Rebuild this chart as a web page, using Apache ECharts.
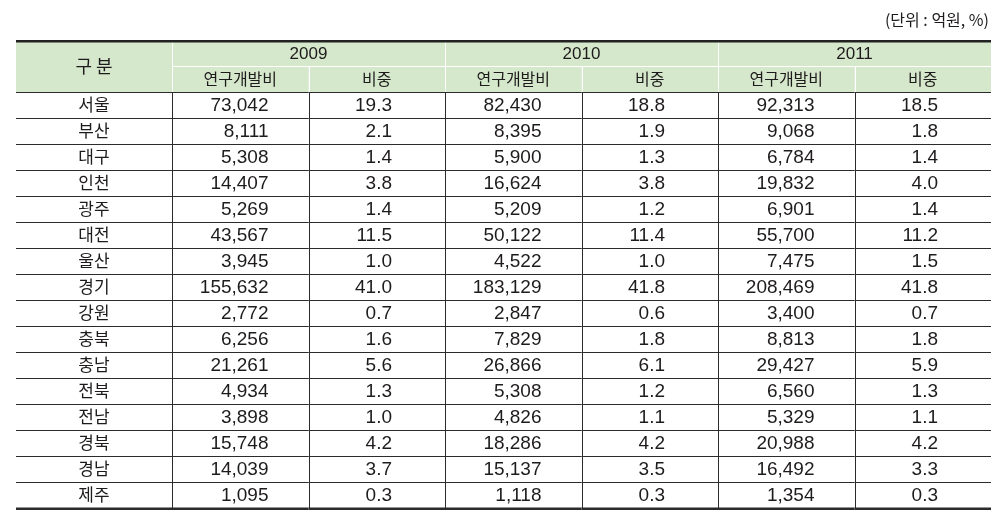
<!DOCTYPE html>
<html>
<head>
<meta charset="utf-8">
<script src="https://cdn.jsdelivr.net/npm/echarts@6/dist/echarts.min.js"></script>
<style>
  html, body { margin: 0; padding: 0; background: #fff; }
  #chart { width: 1003px; height: 516px; }
</style>
</head>
<body>
<div id="chart"></div>
<script>
  // 지역별 연구개발비 (단위: 억원, %)
  const regions = ['서울', '부산', '대구', '인천', '광주', '대전', '울산', '경기',
    '강원', '충북', '충남', '전북', '전남', '경북', '경남', '제주']
  const years = ['2009', '2010', '2011']
  const subHeads = ['연구개발비', '비중']

  const rnd2009 = [73042, 8111, 5308, 14407, 5269, 43567, 3945, 155632, 2772, 6256, 21261, 4934, 3898, 15748, 14039, 1095]
  const share2009 = [19.3, 2.1, 1.4, 3.8, 1.4, 11.5, 1.0, 41.0, 0.7, 1.6, 5.6, 1.3, 1.0, 4.2, 3.7, 0.3]
  const rnd2010 = [82430, 8395, 5900, 16624, 5209, 50122, 4522, 183129, 2847, 7829, 26866, 5308, 4826, 18286, 15137, 1118]
  const share2010 = [18.8, 1.9, 1.3, 3.8, 1.2, 11.4, 1.0, 41.8, 0.6, 1.8, 6.1, 1.2, 1.1, 4.2, 3.5, 0.3]
  const rnd2011 = [92313, 9068, 6784, 19832, 6901, 55700, 7475, 208469, 3400, 8813, 29427, 6560, 5329, 20988, 16492, 1354]
  const share2011 = [18.5, 1.8, 1.4, 4.0, 1.4, 11.2, 1.5, 41.8, 0.7, 1.8, 5.9, 1.3, 1.1, 4.2, 3.3, 0.3]

  const columns = [rnd2009, share2009, rnd2010, share2010, rnd2011, share2011]

  const KR = '"Noto Sans CJK KR", sans-serif'
  const NUM = '"Liberation Sans", Arial, sans-serif'
  const INK = '#1e1b1c'
  const LINE = '#2b2b2b'
  const HEAD_BG = '#d6e8cb'

  // layout of the table
  const tableLeft = 16
  const firstColW = 156
  const tableRight = 12

  const crisp = v => Math.round(v) + 0.5

  const bodyData = []
  columns.forEach((vals, c) => {
    vals.forEach((v, r) => bodyData.push([c, r, v]))
  })

  const headData = []
  years.forEach((y, i) => headData.push({ value: [i * 2, 0], text: y, span: 2 }))
  for (let c = 0; c < columns.length; c++) {
    headData.push({ value: [c, 1], text: subHeads[c % 2], span: 1 })
  }

  function renderBody(params, api) {
    const col = api.value(0)
    const row = api.value(1)
    const v = api.value(2)
    const c = api.coord([col, row])
    const s = api.size([1, 1])
    const x0 = c[0] - s[0] / 2
    const x1 = c[0] + s[0] / 2
    const y0 = c[1] - s[1] / 2
    const y1 = c[1] + s[1] / 2
    const lx = col === 0 ? tableLeft : x0
    const isShare = col % 2 === 1
    const last = row === regions.length - 1
    const kids = []

    // left border of cell
    kids.push({
      type: 'line',
      shape: { x1: crisp(x0), y1: y0, x2: crisp(x0), y2: y1 },
      style: { stroke: LINE, lineWidth: 1 }
    })
    // bottom border
    const by = last ? y1 + 0.8 : crisp(y1)
    kids.push({
      type: 'line',
      shape: { x1: lx, y1: by, x2: x1, y2: by },
      style: { stroke: LINE, lineWidth: last ? 2.6 : 1 }
    })
    if (row === 0) {
      kids.push({
        type: 'line',
        shape: { x1: lx, y1: crisp(y0), x2: x1, y2: crisp(y0) },
        style: { stroke: LINE, lineWidth: 1 }
      })
    }
    kids.push({
      type: 'text',
      style: {
        text: isShare ? v.toFixed(1) : v.toLocaleString('en-US'),
        x: x1 - (isShare ? 53 : 40),
        y: c[1] + 1,
        align: 'right',
        verticalAlign: 'middle',
        fontFamily: NUM,
        fontSize: 19,
        fill: INK
      }
    })
    return { type: 'group', children: kids }
  }

  function renderHead(params, api) {
    const item = headData[params.dataIndex]
    const row = api.value(1)
    const c = api.coord([api.value(0), row])
    const s = api.size([1, 1])
    const x0 = c[0] - s[0] / 2
    const x1 = x0 + s[0] * item.span
    const y0 = c[1] - s[1] / 2
    const y1 = c[1] + s[1] / 2
    const kids = [{
      type: 'rect',
      shape: { x: x0, y: y0, width: x1 - x0, height: y1 - y0 },
      style: { fill: HEAD_BG }
    }, {
      type: 'line',
      shape: { x1: crisp(x0), y1: y0, x2: crisp(x0), y2: y1 },
      style: { stroke: '#fff', lineWidth: 1 }
    }]
    if (row === 1) {
      kids.push({
        type: 'line',
        shape: { x1: x0, y1: crisp(y0), x2: x1, y2: crisp(y0) },
        style: { stroke: '#fff', lineWidth: 1 }
      })
    }
    const isYear = row === 0
    kids.push({
      type: 'text',
      style: {
        text: item.text,
        x: (x0 + x1) / 2,
        y: c[1] + (isYear ? 1 : 0),
        align: 'center',
        verticalAlign: 'middle',
        fontFamily: isYear ? NUM : KR,
        fontSize: isYear ? 17 : 16,
        fill: INK
      }
    })
    return { type: 'group', children: kids }
  }

  const chart = echarts.init(document.getElementById('chart'))

  chart.setOption({
    animation: false,
    grid: [
      { left: tableLeft + firstColW, right: tableRight, top: 92, bottom: 8 },
      { left: tableLeft + firstColW, right: tableRight, top: 40, height: 52 }
    ],
    xAxis: [
      { type: 'category', gridIndex: 0, data: [0, 1, 2, 3, 4, 5], show: false },
      { type: 'category', gridIndex: 1, data: [0, 1, 2, 3, 4, 5], show: false }
    ],
    yAxis: [
      {
        type: 'category',
        gridIndex: 0,
        inverse: true,
        data: regions,
        axisLine: { show: false },
        axisTick: { show: false },
        splitLine: { show: false },
        axisLabel: {
          margin: firstColW / 2,
          align: 'center',
          fontFamily: KR,
          fontSize: 17,
          color: INK
        }
      },
      { type: 'category', gridIndex: 1, inverse: true, data: ['연도', '항목'], show: false }
    ],
    graphic: [
      {
        type: 'rect',
        z: 1,
        shape: { x: tableLeft, y: 40, width: firstColW, height: 52 },
        style: { fill: HEAD_BG }
      },
      {
        type: 'text',
        z: 10,
        style: {
          text: '구 분',
          x: tableLeft + firstColW / 2,
          y: 66,
          align: 'center',
          verticalAlign: 'middle',
          fontFamily: KR,
          fontSize: 18,
          fill: INK
        }
      },
      {
        type: 'line',
        z: 100,
        shape: { x1: tableLeft, y1: 41.3, x2: 1003 - tableRight, y2: 41.3 },
        style: { stroke: '#222', lineWidth: 2.4 }
      },
      {
        type: 'text',
        z: 10,
        style: {
          text: '(단위 : 억원, %)',
          x: 989,
          y: 20,
          align: 'right',
          verticalAlign: 'middle',
          fontFamily: KR,
          fontSize: 16,
          fill: INK
        }
      }
    ],
    series: [
      {
        type: 'custom',
        name: 'body',
        xAxisIndex: 0,
        yAxisIndex: 0,
        renderItem: renderBody,
        data: bodyData
      },
      {
        type: 'custom',
        name: 'head',
        xAxisIndex: 1,
        yAxisIndex: 1,
        renderItem: renderHead,
        data: headData
      }
    ]
  })
</script>
</body>
</html>
